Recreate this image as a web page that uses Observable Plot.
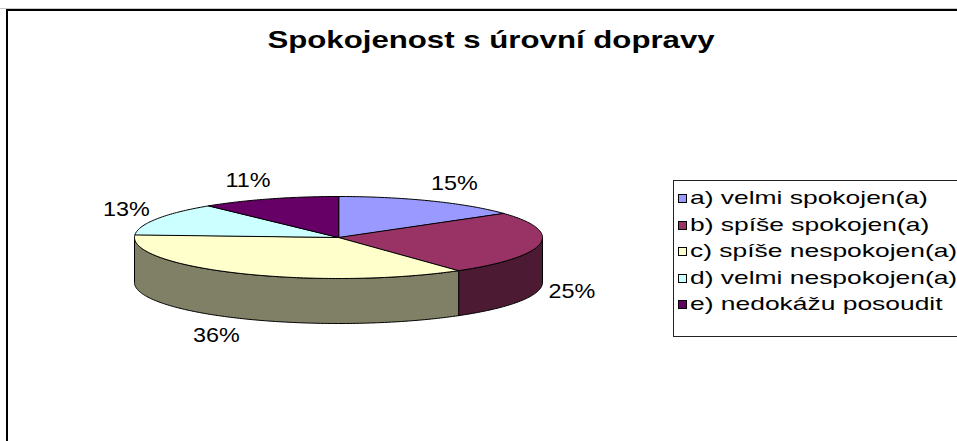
<!DOCTYPE html>
<html>
<head>
<meta charset="utf-8">
<script src="https://cdn.jsdelivr.net/npm/d3@7"></script>
<script src="https://cdn.jsdelivr.net/npm/@observablehq/plot@0.6"></script>
<style>
  body { margin: 0; background: #fff; }
  #wrap { position: relative; width: 957px; height: 441px; overflow: hidden; background: #fff; font-family: "Liberation Sans", Arial, sans-serif; }
  #chart { position: absolute; left: 0; top: 0; }
  #title { position: absolute; left: 0; width: 982px; top: 26px; text-align: center; font-weight: bold; font-size: 24px; line-height: 28px; }
  #title span { display: inline-block; transform: scaleX(1.3); }
  #legend { position: absolute; left: 673px; top: 180px; width: 300px; height: 157px; border: 1px solid #222; box-sizing: border-box; }
  .row { position: absolute; left: 4px; height: 22px; font-size: 19px; line-height: 22px; white-space: nowrap; }
  .sw { position: absolute; left: 0; top: 7px; width: 7px; height: 7px; border: 1px solid #000; }
  .lt { position: absolute; left: 12px; top: 0; display: inline-block; transform-origin: left center; transform: scaleX(1.39); }
  #grayline { position: absolute; left: 0; top: 8px; width: 957px; height: 1px; background: #c8c8c8; }
  #frame { position: absolute; left: 6px; top: 9px; width: 980px; height: 460px; border-left: 2px solid #000; border-top: 2px solid #000; }
</style>
</head>
<body>
<div id="wrap">
  <div id="chart"></div>
  <div id="grayline"></div>
  <div id="frame"></div>
  <div id="title"><span></span></div>
  <div id="legend"></div>
</div>
<script>
// ---- data ----
const title = "Spokojenost s úrovní dopravy";
const categories = [
  "a) velmi spokojen(a)",
  "b) spíše spokojen(a)",
  "c) spíše nespokojen(a)",
  "d) velmi nespokojen(a)",
  "e) nedokážu posoudit"
];
const values = [15, 25, 36, 13, 11];
const labels = ["15%", "25%", "36%", "13%", "11%"];
const topColors = ["#9999FF", "#993366", "#FFFFCC", "#CCFFFF", "#660066"];
const sideColors = ["#4D4D80", "#4D1A33", "#808066", "#668080", "#330033"];

// ---- layout (pixels) ----
const W = 957, H = 441;
const cx = 338, cy = 237, rx = 204, ry = 41, depth = 45;

const total = d3.sum(values);
let acc = 0;
const slices = values.map((v, i) => {
  const a0 = acc / total * 2 * Math.PI;
  acc += v;
  const a1 = acc / total * 2 * Math.PI;
  return {i, v, a0, a1};
});
const pt = (a, dy = 0) => [cx + rx * Math.sin(a), cy - ry * Math.cos(a) + dy];
function arc(a0, a1, dy) {
  const n = Math.max(2, Math.ceil((a1 - a0) / (Math.PI / 180)));
  return d3.range(n + 1).map(k => pt(a0 + (a1 - a0) * k / n, dy));
}

// side faces (front half only: angles PI/2 .. 3PI/2)
const sideRows = [];
for (const s of slices) {
  const s0 = Math.max(s.a0, Math.PI / 2), s1 = Math.min(s.a1, 3 * Math.PI / 2);
  if (s1 <= s0) continue;
  const pts = arc(s0, s1, 0).concat(arc(s0, s1, depth).reverse());
  pts.forEach(([x, y]) => sideRows.push({id: "s" + s.i, x, y, fill: sideColors[s.i]}));
}
// top faces
const topRows = [];
for (const s of slices) {
  const pts = [[cx, cy]].concat(arc(s.a0, s.a1, 0));
  pts.forEach(([x, y]) => topRows.push({id: "t" + s.i, x, y, fill: topColors[s.i]}));
}
// percentage labels
const labelRows = slices.map(s => {
  const m = (s.a0 + s.a1) / 2, sn = Math.sin(m), cs = Math.cos(m);
  return {
    x: cx + rx * sn + 16 * sn + 16 * Math.sign(sn),
    y: cy - ry * cs + (cs < 0 ? depth : 0) - 20 * cs,
    text: labels[s.i]
  };
});

const chart = Plot.plot({
  width: W, height: H,
  margin: 0,
  x: {domain: [0, W], range: [0, W], axis: null},
  y: {domain: [0, H], range: [0, H], axis: null},
  color: {type: "identity"},
  style: {background: "transparent", fontFamily: "Liberation Sans, Arial, sans-serif"},
  marks: [
    Plot.line(sideRows, {x: "x", y: "y", z: "id", fill: "fill", stroke: "#000", strokeWidth: 1, curve: "linear-closed", strokeLinejoin: "round"}),
    Plot.line(topRows, {x: "x", y: "y", z: "id", fill: "fill", stroke: "#000", strokeWidth: 1, curve: "linear-closed", strokeLinejoin: "round"}),
    Plot.text(labelRows, {x: "x", y: "y", text: "text", fontSize: 20, fill: "#000"})
  ]
});
chart.querySelectorAll('g[aria-label="text"] text').forEach(t => {
  const tr = t.getAttribute("transform");
  if (tr) {
    t.setAttribute("transform", tr + " scale(1.17,1)");
  } else {
    const x = +t.getAttribute("x") || 0, y = +t.getAttribute("y") || 0;
    t.removeAttribute("x"); t.removeAttribute("y");
    t.setAttribute("transform", `translate(${x},${y}) scale(1.17,1)`);
  }
});
document.getElementById("chart").appendChild(chart);

document.querySelector("#title span").textContent = title;

const legend = document.getElementById("legend");
categories.forEach((c, i) => {
  const row = document.createElement("div");
  row.className = "row";
  row.style.top = (6 + i * 26.6) + "px";
  const sw = document.createElement("span");
  sw.className = "sw";
  sw.style.background = topColors[i];
  const lt = document.createElement("span");
  lt.className = "lt";
  lt.textContent = c;
  row.appendChild(sw);
  row.appendChild(lt);
  legend.appendChild(row);
});
</script>
</body>
</html>
